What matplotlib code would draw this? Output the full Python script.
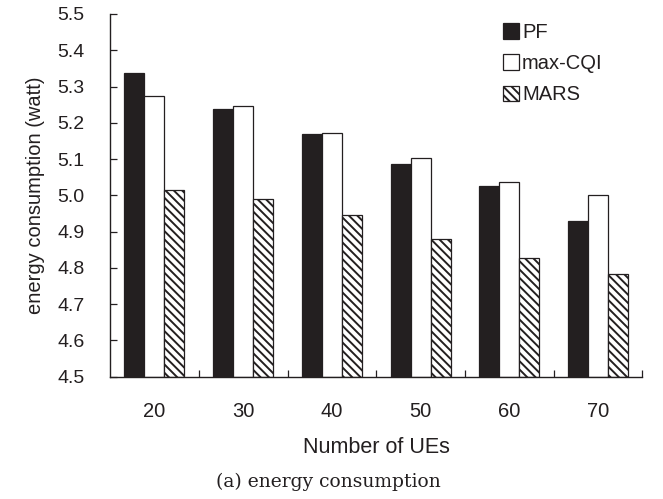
import matplotlib.pyplot as plt
import numpy as np

plt.rcParams["font.family"] = ["Liberation Sans", "DejaVu Sans"]
plt.rcParams["hatch.linewidth"] = 1.4

INK = "#231f20"

num_ues = ["20", "30", "40", "50", "60", "70"]
pf = [5.338, 5.237, 5.170, 5.086, 5.025, 4.929]
max_cqi = [5.273, 5.247, 5.172, 5.103, 5.038, 5.002]
mars = [5.014, 4.991, 4.946, 4.880, 4.826, 4.783]

fig = plt.figure(figsize=(6.63, 4.99), dpi=100)
ax = fig.add_axes([0.166, 0.245, 0.803, 0.727])

x = np.arange(len(num_ues))
width = 0.225
bar_kw = dict(width=width, edgecolor=INK, linewidth=0.9, bottom=4.5)
ax.bar(x - width, np.array(pf) - 4.5, color=INK, label="PF", **bar_kw)
ax.bar(x, np.array(max_cqi) - 4.5, color="white", label="max-CQI", **bar_kw)
ax.bar(x + width, np.array(mars) - 4.5, color="white", hatch="\\\\\\\\",
       label="MARS", **bar_kw)

ax.set_xlim(-0.5, len(num_ues) - 0.5)
ax.set_ylim(4.5, 5.5)
yticks = np.arange(4.5, 5.51, 0.1)
ax.set_yticks(yticks)
ax.set_yticklabels([f"{v:.1f}" for v in yticks])
ax.set_xticks(x)
ax.set_xticklabels(num_ues)
ax.set_xticks(x + 0.5, minor=True)

ax.tick_params(axis="x", which="major", length=0, pad=18, labelsize=14.5, labelcolor=INK)
ax.tick_params(axis="x", which="minor", direction="in", length=5, color=INK, width=0.9)
ax.tick_params(axis="y", direction="in", length=5, pad=18.5, labelsize=14,
               color=INK, width=0.9, labelcolor=INK)

for side in ("top", "right"):
    ax.spines[side].set_visible(False)
for side in ("left", "bottom"):
    ax.spines[side].set_color(INK)
    ax.spines[side].set_linewidth(1.0)

ax.set_ylabel("energy consumption (watt)", fontsize=14.5, color=INK, labelpad=9)
ax.set_xlabel("Number of UEs", fontsize=15.5, color=INK, labelpad=12)

ax.legend(loc="upper left", bbox_to_anchor=(0.738, 0.975), frameon=False,
          fontsize=14.5, handlelength=0.8, handleheight=0.8, handletextpad=0.15,
          labelspacing=0.6, borderaxespad=0, borderpad=0, labelcolor=INK)

fig.text(0.495, 0.034, "(a) energy consumption", ha="center", va="center",
         fontsize=13.5, family=["DejaVu Serif"], color=INK)

fig.savefig("out.png", dpi=100)
